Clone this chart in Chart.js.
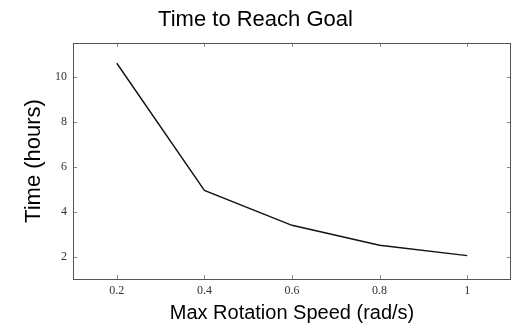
<!DOCTYPE html>
<html>
<head>
<meta charset="utf-8">
<script src="https://cdn.jsdelivr.net/npm/chart.js@4/dist/chart.umd.min.js"></script>
<style>
  html, body { margin:0; padding:0; background:#fff; }
  #wrap { width:512px; height:326px; }
</style>
</head>
<body>
<div id="wrap"><canvas id="chartTempo"></canvas></div>
<script>
// dados
const speeds = [0.2, 0.4, 0.6, 0.8, 1];
const hours = [10.62, 4.96, 3.41, 2.52, 2.06];
const xTicks = [0.2, 0.4, 0.6, 0.8, 1];
const yTicks = [2, 4, 6, 8, 10];

// caixa + marcas de escala para dentro, nos quatro lados
const boxTicks = {
    id: 'boxTicks',
    afterDatasetsDraw(chart) {
        const {ctx, chartArea:a, scales} = chart;
        const len = 4;
        ctx.save();
        ctx.lineWidth = 1;
        ctx.strokeStyle = '#8a8a8a';
        ctx.beginPath();
        scales.x.ticks.forEach(t => {
            const px = Math.round(scales.x.getPixelForValue(t.value)) + 0.5;
            ctx.moveTo(px, a.bottom); ctx.lineTo(px, a.bottom - len);
            ctx.moveTo(px, a.top); ctx.lineTo(px, a.top + len);
        });
        scales.y.ticks.forEach(t => {
            const py = Math.round(scales.y.getPixelForValue(t.value)) + 0.5;
            ctx.moveTo(a.left, py); ctx.lineTo(a.left + len, py);
            ctx.moveTo(a.right, py); ctx.lineTo(a.right - len, py);
        });
        ctx.stroke();
        ctx.strokeStyle = '#555';
        ctx.strokeRect(Math.round(a.left) + 0.5, Math.round(a.top) + 0.5,
                       Math.round(a.right - a.left) - 1, Math.round(a.bottom - a.top));
        ctx.restore();
    }
};

const sans = '"Liberation Sans", Arial, Helvetica, sans-serif';
const serif = '"Liberation Serif", "Times New Roman", serif';

new Chart(document.getElementById('chartTempo'), {
    type: 'line',
    data: {
        datasets: [{
            data: speeds.map((s, i) => ({x: s, y: hours[i]})),
            borderColor: '#111',
            borderWidth: 1.4,
            pointRadius: 0,
            tension: 0,
            fill: false
        }]
    },
    options: {
        responsive: true,
        maintainAspectRatio: false,
        animation: false,
        layout: { padding: { left:0, right:1, top:0, bottom:0 } },
        plugins: {
            legend: { display:false },
            tooltip: { enabled:false },
            title: {
                display: true,
                text: 'Time to Reach Goal',
                color: '#000',
                font: { family: sans, size: 22, weight: 'normal' },
                padding: { top: 7, bottom: 9.6 }
            }
        },
        scales: {
            x: {
                type: 'linear',
                min: 0.1, max: 1.1,
                afterBuildTicks: s => { s.ticks = xTicks.map(v => ({value:v})); },
                afterFit: s => { s.height = 47; },
                grid: { display:false, drawTicks:false },
                border: { display:false },
                ticks: {
                    padding: 5,
                    color: '#333',
                    font: { family: serif, size: 12 },
                    callback: v => String(v)
                },
                title: {
                    display: true,
                    text: 'Max Rotation Speed (rad/s)',
                    color: '#000',
                    font: { family: sans, size: 20 },
                    padding: { top: 0, bottom: 1 }
                }
            },
            y: {
                min: 1.02, max: 11.52,
                afterBuildTicks: s => { s.ticks = yTicks.map(v => ({value:v})); },
                afterFit: s => { s.width = 73; },
                grid: { display:false, drawTicks:false },
                border: { display:false },
                ticks: {
                    padding: 6,
                    color: '#333',
                    font: { family: serif, size: 12 },
                    callback: v => String(v)
                },
                title: {
                    display: true,
                    text: 'Time (hours)',
                    color: '#000',
                    font: { family: sans, size: 22 },
                    padding: { top: 21, bottom: 0 }
                }
            }
        }
    },
    plugins: [boxTicks]
});
</script>
</body>
</html>
